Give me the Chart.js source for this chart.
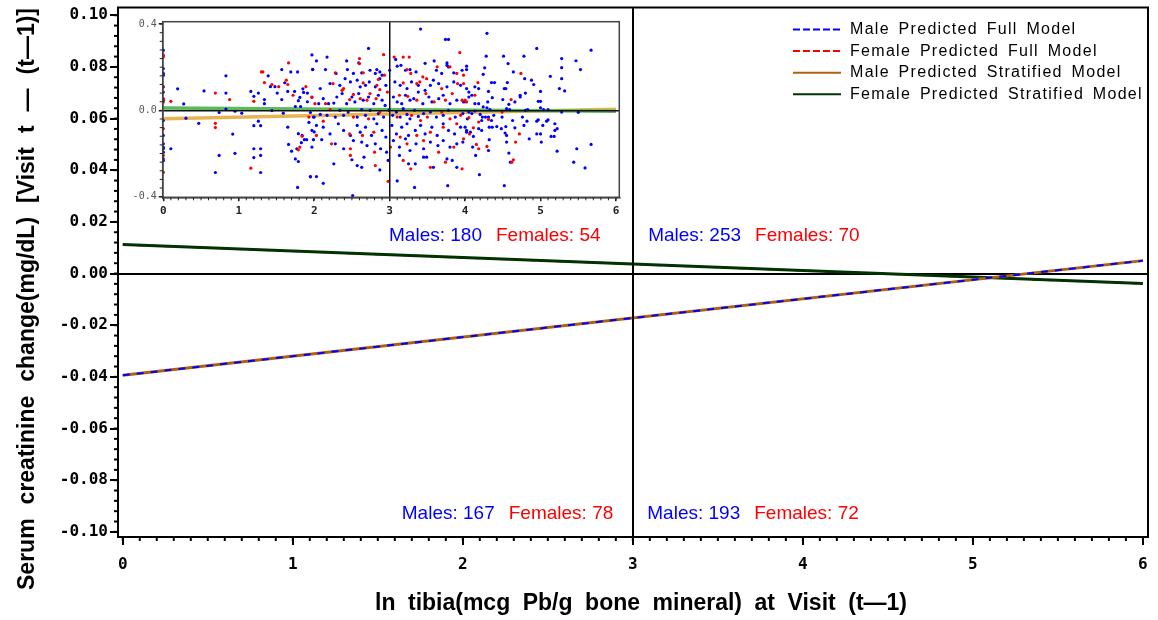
<!DOCTYPE html>
<html>
<head>
<meta charset="utf-8">
<script src="https://cdn.jsdelivr.net/npm/chart.js@4.4.1/dist/chart.umd.min.js"></script>
<style>
  html, body { margin: 0; padding: 0; background: #fff; }
  #wrap { position: relative; width: 1158px; height: 620px; overflow: hidden; }
  #main { position: absolute; left: 0; top: 0; }
  #offscreen { position: absolute; left: -3000px; top: 0; }
</style>
</head>
<body>
<div id="wrap">
  <canvas id="main" width="1158" height="620"></canvas>
</div>
<div id="offscreen"><canvas id="inset" width="508" height="215"></canvas></div>
<script>
// Predicted serum creatinine change vs ln tibia lead — main plot + raw-data inset.
// The inset is rendered by its own Chart on an off-page canvas and pasted into the main canvas.

// ---- data ----
var xEnds = [0, 6];
var maleFull = [-0.0394, 0.0050];
var femaleFull = [0.0112, -0.0039];
var maleStrat = [-0.0394, 0.0050];
var femaleStrat = [0.0112, -0.0039];

var seriesLabels = [
  'Male Predicted Full Model',
  'Female Predicted Full Model',
  'Male Predicted Stratified Model',
  'Female Predicted Stratified Model'
];

var xTicks = [0, 1, 2, 3, 4, 5, 6];
var yTicks = [-0.10, -0.08, -0.06, -0.04, -0.02, 0, 0.02, 0.04, 0.06, 0.08, 0.10];
var insetXTicks = [0, 1, 2, 3, 4, 5, 6];
var insetYTicks = [-0.4, 0, 0.4];

// quadrant counts: upper-left, upper-right, lower-left, lower-right
var quadrantMales = [180, 253, 167, 193];
var quadrantFemales = [54, 70, 78, 72];

var xTitle = 'ln tibia(mcg Pb/g bone mineral) at Visit (t\u20141)';
var yTitle = 'Serum creatinine change(mg/dL) [Visit t \u2014 (t\u20141)]';

// observed changes (inset), [ln tibia, change]
var maleObs = [
  [0,0.279],[0,0.194],[0,0.171],[0,0.163],[0,0.109],[0,0.085],[0,0.047],[0,-0.047],[0,-0.116],[0,-0.155],
  [0,-0.171],[0,-0.178],[0,-0.194],[0,-0.225],[0,-0.233],
  [0.19,0.10],[0.27,0.03],[0.10,-0.178],[0.30,-0.036],[0.54,0.09],[0.47,-0.06],[0.74,-0.01],[0.69,-0.288],
  [0.74,-0.209],[0.83,0.16],[0.83,0.08],[0.83,0.006],[0.92,-0.11],[0.95,-0.199],[0.95,-0.004],[1.04,-0.013],
  [1.16,0.088],[1.2,0.065],[1.26,0.08],[1.2,-0.178],[1.2,-0.219],[1.29,-0.178],[1.29,-0.209],[1.29,-0.288],
  [1.2,-0.071],[1.29,-0.071],[1.26,-0.05],[1.34,0.05],[1.39,0.16],[1.42,0.11],[1.34,0.031],[1.44,-0.001],
  [1.48,0.11],[1.51,0.08],[1.57,0.189],[1.61,0.128],[1.57,0.05],[1.59,-0.013],[1.65,-0.078],[1.69,0.178],
  [1.78,0.178],[1.65,0.088],[1.74,0.088],[1.79,0.045],[1.81,0.06],[1.86,0.083],[1.91,0.08],[1.85,0.1],
  [1.97,0.257],[1.98,0.19],[1.91,0.04],[1.75,0.018],[1.82,0.018],[1.95,-0.01],[2.0,-0.031],[1.93,-0.056],
  [2.0,-0.1],[1.79,-0.108],[1.84,-0.116],[1.87,-0.136],[1.90,-0.136],[1.66,-0.158],[1.83,-0.15],[1.77,-0.178],
  [1.70,-0.189],[1.75,-0.225],[1.79,-0.237],[1.78,-0.357],[1.95,-0.308],[1.97,-0.17],
  [3.41,0.377],[3.74,0.329],[3.78,0.329],[2.72,0.287],[2.17,0.247],[2.03,0.229],[2.43,0.229],[2.59,0.22],
  [3.08,0.236],[3.59,0.229],[3.76,0.22],[3.47,0.218],[3.78,0.201],
  [1.98,0.189],[2.15,0.189],[2.29,0.171],[2.44,0.189],[2.52,0.171],[2.63,0.174],[2.74,0.186],[2.81,0.171],
  [2.83,0.189],[2.87,0.178],[2.9,0.163],[3.0,0.186],[3.1,0.205],[3.15,0.209],[3.21,0.186],[3.27,0.189],
  [3.35,0.178],[3.62,0.186],[3.69,0.171],[3.76,0.209],[3.85,0.174],[3.96,0.186],[4.02,0.205],
  [2.08,0.101],[2.21,0.124],[2.34,0.116],[2.41,0.147],[2.48,0.132],[2.57,0.14],[2.61,0.109],[2.68,0.116],
  [2.73,0.132],[2.81,0.109],[2.87,0.147],[2.95,0.116],[3.07,0.132],[3.14,0.116],[3.23,0.101],[3.29,0.132],
  [3.38,0.116],[3.47,0.093],[3.54,0.116],[3.58,0.14],[3.65,0.124],[3.76,0.109],[3.85,0.132],[3.94,0.116],
  [4.02,0.101],
  [1.97,0.062],[2.06,0.031],[2.12,0.054],[2.19,0.031],[2.26,0.034],[2.3,0.062],[2.37,0.078],[2.43,0.031],
  [2.5,0.062],[2.54,0.039],[2.59,0.078],[2.65,0.047],[2.72,0.062],[2.79,0.031],[2.85,0.07],[2.9,0.047],
  [2.94,0.023],[3.05,0.062],[3.1,0.039],[3.16,0.031],[3.21,0.07],[3.27,0.047],[3.32,0.054],[3.38,0.085],
  [3.44,0.031],[3.52,0.062],[3.56,0.039],[3.65,0.054],[3.71,0.07],[3.8,0.031],[3.89,0.047],[3.98,0.039],
  [4.05,0.062],
  [1.99,-0.031],[2.08,-0.019],[2.17,-0.023],[2.28,-0.031],[2.34,0.0],[2.39,-0.023],[2.45,-0.008],[2.57,-0.031],
  [2.63,0.003],[2.68,-0.023],[2.74,0.0],[2.79,-0.039],[2.85,-0.015],[2.92,-0.031],[2.99,0.0],[3.04,-0.023],
  [3.09,-0.008],[3.14,-0.031],[3.18,0.008],[3.23,-0.019],[3.27,-0.039],[3.33,0.0],[3.38,-0.028],[3.45,-0.015],
  [3.54,-0.008],[3.62,-0.031],[3.71,-0.023],[3.78,0.0],[3.87,-0.031],[3.97,-0.015],[4.03,-0.039],
  [1.97,-0.093],[2.03,-0.07],[2.12,-0.078],[2.21,-0.109],[2.32,-0.062],[2.39,-0.093],[2.48,-0.116],[2.57,-0.07],
  [2.61,-0.101],[2.68,-0.078],[2.76,-0.116],[2.83,-0.062],[2.9,-0.093],[2.95,-0.124],[3.03,-0.07],[3.09,-0.109],
  [3.16,-0.078],[3.23,-0.062],[3.25,-0.116],[3.34,-0.093],[3.41,-0.07],[3.47,-0.109],[3.56,-0.078],[3.63,-0.116],
  [3.71,-0.062],[3.78,-0.093],[3.86,-0.109],[3.94,-0.078],[4.02,-0.101],
  [1.99,-0.136],[2.1,-0.136],[2.28,-0.155],[2.39,-0.178],[2.52,-0.14],[2.63,-0.147],[2.7,-0.163],[2.81,-0.155],
  [2.88,-0.178],[2.96,-0.194],[3.05,-0.14],[3.13,-0.17],[3.21,-0.132],[3.27,-0.186],[3.35,-0.155],[3.45,-0.178],
  [3.54,-0.147],[3.64,-0.163],[3.71,-0.14],[3.8,-0.17],[3.89,-0.155],[3.97,-0.147],
  [2.26,-0.248],[2.5,-0.229],[2.57,-0.256],[2.63,-0.264],[2.66,-0.217],[2.87,-0.276],[2.98,-0.232],[3.13,-0.209],
  [3.25,-0.248],[3.34,-0.248],[3.45,-0.217],[3.49,-0.217],[3.58,-0.264],[3.76,-0.225],[3.83,-0.232],[3.89,-0.264],
  [2.03,-0.307],[1.95,-0.307],[2.12,-0.338],[2.51,-0.395],[3.1,-0.327],[3.33,-0.357],[3.77,-0.349],
  [4.29,0.357],[4.95,0.287],[5.67,0.279],[4.28,0.251],[4.51,0.251],[4.78,0.251],[5.28,0.24],[4.57,0.217],
  [4.26,0.197],[5.47,0.23],[5.28,0.198],[5.53,0.189],[4.64,0.178],[5.13,0.158],[4.24,0.167],[4.02,0.189],
  [5.28,0.147],[4.79,0.147],[4.88,0.14],[4.35,0.129],[4.39,0.129],[4.56,0.129],[4.91,0.12],[4.13,0.109],
  [4.18,0.101],[4.52,0.101],[4.54,0.101],[5.25,0.101],[5.32,0.09],[4.73,0.07],[4.73,0.062],[4.8,0.08],
  [5.0,0.088],[4.31,0.088],[4.05,0.085],[4.09,0.07],[4.36,0.059],[4.5,0.05],[4.66,0.039],[4.97,0.042],
  [5.0,0.042],[4.3,0.039],[4.0,0.04],[4.13,0.031],[4.18,0.031],[4.58,0.028],[4.24,0.016],[4.29,0.012],
  [4.33,0.003],[4.55,0.008],[4.59,0.003],[4.8,0.0],[4.83,0.003],[5.0,0.012],[5.04,0.003],[5.1,0.003],
  [5.28,-0.008],[5.5,-0.009],[4.05,-0.008],[4.09,-0.015],[4.13,-0.003],[4.2,-0.019],[4.27,-0.031],[4.31,-0.031],
  [4.35,-0.047],[4.38,-0.023],[4.22,-0.047],[4.23,-0.031],[4.49,-0.031],[4.76,-0.031],[4.82,-0.05],[4.95,-0.05],
  [4.97,-0.044],[5.1,-0.044],[5.08,-0.05],[4.63,-0.047],[4.78,-0.07],[5.03,-0.07],[5.19,-0.062],[4.32,-0.078],
  [4.36,-0.078],[4.42,-0.075],[4.48,-0.085],[4.54,-0.075],[4.66,-0.081],[4.0,-0.078],[4.02,-0.093],[4.07,-0.101],
  [4.18,-0.085],[4.22,-0.093],[5.19,-0.093],[5.22,-0.085],[4.53,-0.105],[4.55,-0.116],[4.95,-0.109],[5.0,-0.109],
  [5.14,-0.121],[5.18,-0.121],[4.85,-0.132],[4.32,-0.136],[4.11,-0.121],[4.55,-0.147],[5.01,-0.147],[4.1,-0.17],
  [4.31,-0.186],[5.48,-0.178],[5.67,-0.158],[5.22,-0.189],[4.14,-0.209],[4.58,-0.198],[4.6,-0.24],[5.44,-0.24],
  [5.59,-0.267],[4.19,-0.298],[4.52,-0.349]
];

var femaleObs = [
  [0,0.256],[0,0.248],[0,0.109],[0,0.054],[0,0.039],[0,-0.085],[0,-0.209],[0,-0.287],
  [0.10,0.042],[0.69,0.08],[0.69,-0.06],[0.69,-0.08],[0.88,0.05],[1.2,0.042],[1.16,-0.268],[1.30,0.178],
  [1.32,0.178],[1.34,0.129],[1.44,0.12],[1.53,0.11],[1.63,0.14],[1.65,0.12],[1.66,0.22],[1.72,0.07],
  [1.89,0.11],[1.97,0.06],[1.93,-0.031],[1.84,-0.12],[1.79,-0.183],[1.81,-0.17],
  [3.93,0.268],[2.92,0.258],[2.6,0.24],[3.06,0.247],[3.18,0.247],[3.26,0.247],
  [2.28,0.174],[2.6,0.217],[2.65,0.174],[2.85,0.143],[2.93,0.163],[3.23,0.189],[3.28,0.171],[3.44,0.155],
  [3.63,0.202],[3.8,0.202],[3.89,0.171],[3.98,0.163],
  [2.25,0.124],[2.37,0.093],[2.39,0.101],[2.65,0.127],[2.83,0.116],[2.87,0.096],[3.18,0.127],[3.36,0.124],
  [3.4,0.132],[3.49,0.147],[3.69,0.101],[3.9,0.124],[3.98,0.124],
  [2.01,0.031],[2.15,0.031],[2.47,0.05],[2.52,0.074],[2.61,0.054],[2.7,0.047],[2.74,0.078],[2.82,0.054],
  [2.97,0.085],[3.13,0.07],[3.24,0.065],[3.36,0.047],[3.48,0.078],[3.59,0.039],[3.74,0.047],[3.83,0.078],
  [3.96,0.047],[4.02,0.039],
  [2.21,0.003],[2.52,-0.031],[2.72,-0.039],[2.87,-0.008],[3.1,-0.031],[3.29,-0.023],[3.41,-0.047],[3.5,-0.031],
  [3.69,-0.008],[3.8,-0.039],[3.94,-0.023],
  [2.03,-0.116],[2.12,-0.05],[2.47,-0.109],[2.64,-0.116],[2.79,-0.101],[3.14,-0.124],[3.36,-0.116],[3.54,-0.101],
  [3.71,-0.078],[3.89,-0.062],[3.98,-0.132],
  [2.23,-0.155],[2.48,-0.178],[2.8,-0.194],[3.01,-0.17],[3.23,-0.155],[3.45,-0.14],[3.65,-0.194],[3.85,-0.17],
  [2.48,-0.209],[2.81,-0.256],[3.18,-0.232],[3.28,-0.271],[3.54,-0.264],[3.74,-0.24],[3.96,-0.271],[2.98,-0.329],
  [4.74,0.171],[4.17,0.129],[4.13,0.07],[4.61,0.05],[4.0,0.047],[4.49,-0.008],[4.05,-0.034],[4.18,-0.054],
  [4.31,-0.042],[4.11,-0.081],[4.06,-0.109],[4.72,-0.109],[4.67,-0.147],[4.15,-0.158],[4.18,-0.178],[4.29,-0.167],
  [4.64,-0.229],[4.62,-0.24]
];

// ---- helpers ----
function toXY(xs, ys) {
  return xs.map(function (x, i) { return { x: x, y: ys[i] }; });
}
function toPoints(pairs) {
  return pairs.map(function (p) { return { x: p[0], y: p[1] }; });
}
function fixedTicks(values) {
  return function (scale) { scale.ticks = values.map(function (v) { return { value: v }; }); };
}
function onlyAt(value, color) {
  return function (c) { return c.tick && c.tick.value === value ? color : 'rgba(0,0,0,0)'; };
}
function fitWords(ctx, text, target) {
  if (!('wordSpacing' in ctx)) return;
  ctx.wordSpacing = '0px';
  var w = ctx.measureText(text).width;
  var gaps = text.split(' ').length - 1;
  ctx.wordSpacing = Math.max(0, (target - w) / gaps) + 'px';
}

// ---- plugins ----
var frame = {
  id: 'frame',
  beforeDatasetsDraw: function (chart, args, o) {
    if (!o.fill) return;
    var a = chart.chartArea, ctx = chart.ctx;
    ctx.save(); ctx.fillStyle = o.fill;
    ctx.fillRect(a.left, a.top, a.right - a.left, a.bottom - a.top);
    ctx.restore();
  },
  afterDraw: function (chart, args, o) {
    var a = chart.chartArea, ctx = chart.ctx;
    ctx.save(); ctx.strokeStyle = o.color; ctx.lineWidth = o.width;
    ctx.strokeRect(a.left, a.top, a.right - a.left, a.bottom - a.top);
    ctx.restore();
  }
};

var minorTicks = {
  id: 'minorTicks',
  afterDraw: function (chart, args, o) {
    var ctx = chart.ctx, a = chart.chartArea;
    ctx.save(); ctx.strokeStyle = o.color; ctx.lineWidth = o.width;
    ['x', 'y'].forEach(function (id) {
      var t = o[id];
      if (!t) return;
      var s = chart.scales[id];
      var n = Math.round((t.to - t.from) / t.step);
      for (var i = 0; i <= n; i++) {
        var p = s.getPixelForValue(t.from + i * t.step);
        ctx.beginPath();
        if (id === 'x') { ctx.moveTo(p, a.bottom); ctx.lineTo(p, a.bottom + t.len); }
        else { ctx.moveTo(a.left, p); ctx.lineTo(a.left - t.len, p); }
        ctx.stroke();
      }
    });
    ctx.restore();
  }
};

// pastes the inset chart's canvas onto the main canvas
var insetImage = {
  id: 'insetImage',
  afterDraw: function (chart, args, o) {
    var src = document.getElementById(o.canvasId);
    if (src) chart.ctx.drawImage(src, o.left, o.top);
  }
};

var sideLegend = {
  id: 'sideLegend',
  afterDraw: function (chart, args, o) {
    var ctx = chart.ctx;
    ctx.save();
    ctx.font = o.font; ctx.textBaseline = 'middle'; ctx.textAlign = 'left'; ctx.fillStyle = '#000';
    if ('wordSpacing' in ctx) ctx.wordSpacing = o.wordSpacing;
    if ('letterSpacing' in ctx) ctx.letterSpacing = o.letterSpacing;
    chart.data.datasets.forEach(function (ds, i) {
      var y = o.top + i * o.rowGap;
      ctx.beginPath();
      ctx.strokeStyle = ds.borderColor; ctx.lineWidth = 2;
      ctx.setLineDash(ds.borderDash ? o.dash : []);
      ctx.moveTo(o.lineX0, y); ctx.lineTo(o.lineX1, y); ctx.stroke();
      ctx.setLineDash([]);
      ctx.fillText(ds.label, o.textX, y);
    });
    ctx.restore();
  }
};

var quadrantCounts = {
  id: 'quadrantCounts',
  afterDraw: function (chart, args, o) {
    var ctx = chart.ctx, xs = chart.scales.x, ys = chart.scales.y;
    ctx.save();
    ctx.font = o.font; ctx.textBaseline = 'alphabetic'; ctx.textAlign = 'left';
    o.anchors.forEach(function (a, i) {
      var m = 'Males: ' + quadrantMales[i], f = 'Females: ' + quadrantFemales[i];
      var px = xs.getPixelForValue(a.x), py = ys.getPixelForValue(a.y);
      var wm = ctx.measureText(m).width, wf = ctx.measureText(f).width;
      var start = a.align === 'right' ? px - wf - o.gap - wm : px;
      ctx.fillStyle = o.maleColor; ctx.fillText(m, start, py);
      ctx.fillStyle = o.femaleColor; ctx.fillText(f, start + wm + o.gap, py);
    });
    ctx.restore();
  }
};

var axisTitles = {
  id: 'axisTitles',
  afterDraw: function (chart, args, o) {
    var ctx = chart.ctx;
    ctx.save();
    ctx.fillStyle = '#000'; ctx.font = o.font;
    ctx.textAlign = 'center'; ctx.textBaseline = 'alphabetic';
    fitWords(ctx, xTitle, o.xWidth);
    ctx.fillText(xTitle, o.xCenter, o.xBaseline);
    ctx.translate(o.yBaseline, o.yCenter);
    ctx.rotate(-Math.PI / 2);
    fitWords(ctx, yTitle, o.yWidth);
    ctx.fillText(yTitle, 0, 0);
    ctx.restore();
  }
};

// ---- inset: observed data (drawn first, off page) ----
// grid lines sit above the points (z 1); borders share that layer so they are drawn after the grid is laid out
new Chart(document.getElementById('inset'), {
  type: 'scatter',
  data: {
    datasets: [
      { data: toPoints(femaleObs), backgroundColor: '#ff0000', pointRadius: 1.6, pointBorderWidth: 0, order: 0 },
      { data: toPoints(maleObs), backgroundColor: '#0000ff', pointRadius: 1.6, pointBorderWidth: 0, order: 1 },
      { type: 'line', data: toXY(xEnds, femaleStrat), borderColor: '#5cb85c', borderWidth: 3.5, pointRadius: 0, order: 2 },
      { type: 'line', data: toXY(xEnds, maleStrat), borderColor: '#e8b450', borderWidth: 3.5, pointRadius: 0, order: 3 }
    ]
  },
  options: {
    responsive: false,
    animation: false,
    devicePixelRatio: 1,
    layout: { padding: { top: 11.7, right: 10.7, left: 0, bottom: 0 } },
    scales: {
      x: {
        type: 'linear', min: -0.008, max: 6.044,
        afterBuildTicks: fixedTicks(insetXTicks),
        afterFit: function (s) { s.height = 27.7; s.paddingLeft = 0; s.paddingRight = 0; },
        grid: { color: onlyAt(3, '#111'), lineWidth: 1.5, z: 1, tickColor: '#222', tickWidth: 1.5, tickLength: 4 },
        border: { color: '#222', width: 1.5, z: 1 },
        ticks: { font: { family: 'DejaVu Sans Mono', size: 11, weight: 'bold' }, color: '#222', padding: 3,
                 autoSkip: false, maxRotation: 0, callback: function (v) { return String(v); } }
      },
      y: {
        type: 'linear', min: -0.403, max: 0.411,
        afterBuildTicks: fixedTicks(insetYTicks),
        afterFit: function (s) { s.width = 40.7; s.paddingTop = 0; s.paddingBottom = 0; },
        grid: { color: onlyAt(0, '#111'), lineWidth: 1.5, z: 1, tickColor: '#222', tickWidth: 1.5, tickLength: 4 },
        border: { color: '#222', width: 1.5, z: 1 },
        ticks: { font: { family: 'DejaVu Sans Mono', size: 10 }, color: '#555', padding: 2, autoSkip: false,
                 callback: function (v) { return v.toFixed(1); } }
      }
    },
    plugins: {
      legend: { display: false },
      tooltip: { enabled: false },
      frame: { color: '#444', width: 1.5, fill: '#fff' },
      minorTicks: { color: '#222', width: 1,
                    x: { from: 0, to: 6, step: 0.1, len: 3 },
                    y: { from: -0.4, to: 0.4, step: 0.04, len: 3 } }
    }
  },
  plugins: [frame, minorTicks]
});

// ---- main chart ----
var tickFont = { family: 'DejaVu Sans Mono', size: 16, weight: 'bold' };

new Chart(document.getElementById('main'), {
  type: 'line',
  data: {
    datasets: [
      { label: seriesLabels[0], data: toXY(xEnds, maleFull), borderColor: '#0000ff', borderDash: [7, 7], borderWidth: 2, order: 0 },
      { label: seriesLabels[1], data: toXY(xEnds, femaleFull), borderColor: '#ff0000', borderDash: [7, 7], borderWidth: 2, order: 3 },
      { label: seriesLabels[2], data: toXY(xEnds, maleStrat), borderColor: '#b0600f', borderWidth: 3, order: 1 },
      { label: seriesLabels[3], data: toXY(xEnds, femaleStrat), borderColor: '#003300', borderWidth: 3, order: 2 }
    ]
  },
  options: {
    responsive: false,
    animation: false,
    devicePixelRatio: 1,
    elements: { point: { radius: 0 }, line: { tension: 0 } },
    layout: { padding: { top: 7.5, right: 10, left: 0, bottom: 0 } },
    scales: {
      x: {
        type: 'linear', min: -0.028, max: 6.03,
        afterBuildTicks: fixedTicks(xTicks),
        afterFit: function (s) { s.height = 83; s.paddingLeft = 0; s.paddingRight = 0; },
        grid: { color: onlyAt(3, '#000'), lineWidth: 2, z: 1, tickColor: '#000', tickWidth: 2, tickLength: 8 },
        border: { color: '#000', width: 2, z: 1 },
        ticks: { font: tickFont, color: '#000', padding: 10, autoSkip: false, maxRotation: 0,
                 callback: function (v) { return String(v); } }
      },
      y: {
        type: 'linear', min: -0.102, max: 0.103,
        afterBuildTicks: fixedTicks(yTicks),
        afterFit: function (s) { s.width = 118; s.paddingTop = 0; s.paddingBottom = 0; },
        grid: { color: onlyAt(0, '#000'), lineWidth: 2, tickColor: '#000', tickWidth: 2, tickLength: 8 },
        border: { color: '#000', width: 2 },
        ticks: { font: tickFont, color: '#000', padding: 2, autoSkip: false,
                 callback: function (v) { return v.toFixed(2); } }
      }
    },
    plugins: {
      legend: { display: false },
      tooltip: { enabled: false },
      insetImage: { canvasId: 'inset', left: 122, top: 10 },
      frame: { color: '#000', width: 2 },
      minorTicks: { color: '#000', width: 2,
                    x: { from: 0, to: 6, step: 0.1, len: 4 },
                    y: { from: -0.10, to: 0.10, step: 0.004, len: 4 } },
      sideLegend: { font: '16px "Liberation Sans"', wordSpacing: '3px', letterSpacing: '1.3px',
                    top: 29.5, rowGap: 21.6, lineX0: 793, lineX1: 841, textX: 850, dash: [7, 3] },
      quadrantCounts: {
        font: '19px "Liberation Sans"', gap: 14, maleColor: '#0000ff', femaleColor: '#ff0000',
        anchors: [
          { x: 2.81, y: 0.0125, align: 'right' },
          { x: 3.09, y: 0.0125, align: 'left' },
          { x: 2.885, y: -0.095, align: 'right' },
          { x: 3.085, y: -0.095, align: 'left' }
        ]
      },
      axisTitles: { font: 'bold 23px "Liberation Sans"', xCenter: 641, xBaseline: 610, xWidth: 532,
                    yBaseline: 34, yCenter: 299, yWidth: 582 }
    }
  },
  plugins: [insetImage, frame, minorTicks, sideLegend, quadrantCounts, axisTitles]
});
</script>
</body>
</html>
